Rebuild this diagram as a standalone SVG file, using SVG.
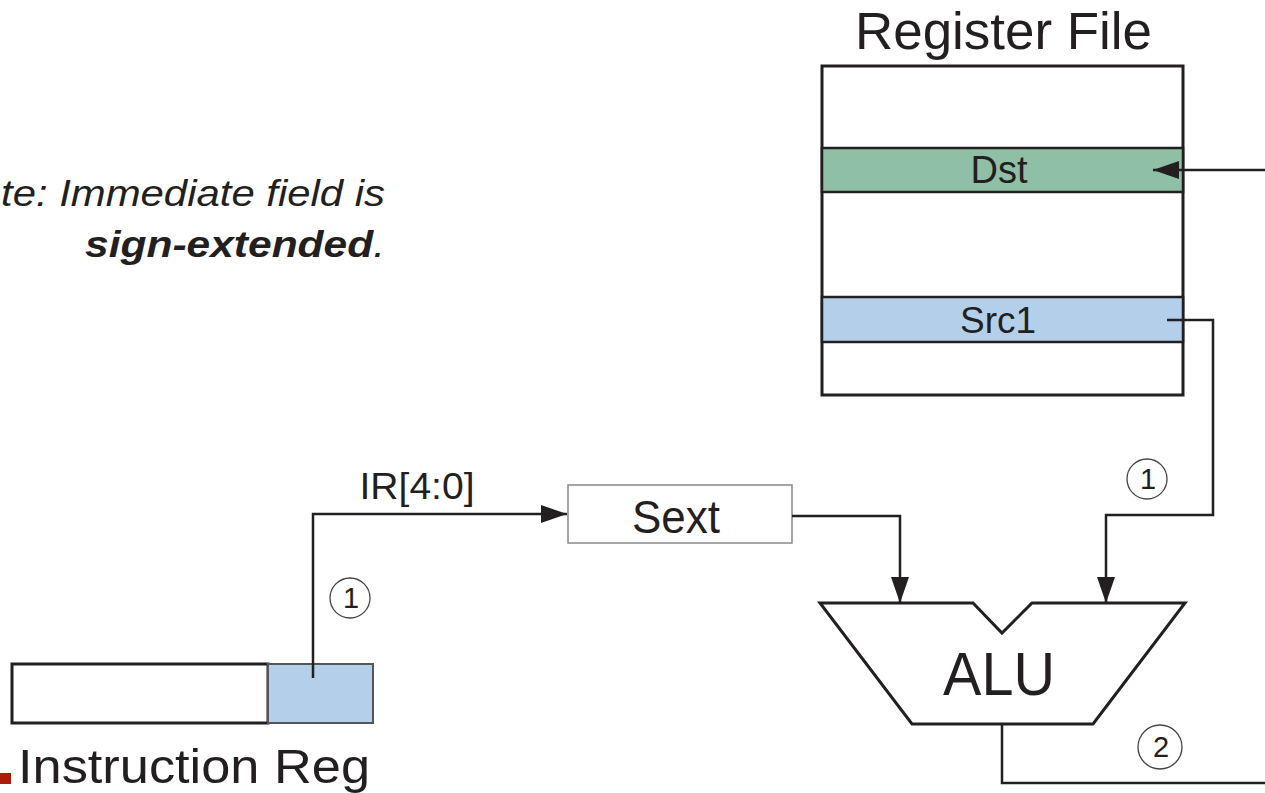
<svg xmlns="http://www.w3.org/2000/svg" width="1265" height="793" viewBox="0 0 1265 793">
<style>
text{font-family:"Liberation Sans",Arial,sans-serif;fill:#231f20}
.box{fill:#fff;stroke:#231f20;stroke-width:3}
.wire{fill:none;stroke:#231f20;stroke-width:2.5}
.step{fill:#fff;stroke:#444;stroke-width:1.3}
.stepnum{font-size:29px;text-anchor:middle}
</style>
<defs>
<marker id="ah" markerUnits="userSpaceOnUse" markerWidth="28" markerHeight="20" refX="26" refY="9" orient="auto">
<path d="M0,0 L26,9 L0,18 Z" fill="#231f20"/>
</marker>
</defs>
<rect width="1265" height="793" fill="#fff"/>

<g id="note">
<text x="1" y="206" font-size="37" font-style="italic" textLength="384" lengthAdjust="spacingAndGlyphs">te: Immediate field is</text>
<text x="85" y="257" font-size="37" font-style="italic" textLength="300" lengthAdjust="spacingAndGlyphs"><tspan font-weight="bold">sign-extended</tspan>.</text>
</g>

<g id="register-file">
<text x="855" y="49" font-size="51" textLength="297" lengthAdjust="spacingAndGlyphs">Register File</text>
<rect class="box" x="822" y="66" width="361" height="329"/>
<rect x="822" y="148" width="361" height="44" fill="#8fbfa5" stroke="#231f20" stroke-width="2.5"/>
<text x="999" y="183" font-size="38" text-anchor="middle">Dst</text>
<rect x="822" y="297" width="361" height="45" fill="#b3cfe9" stroke="#231f20" stroke-width="2.5"/>
<text x="998" y="333" font-size="37" text-anchor="middle">Src1</text>
</g>

<g id="sext">
<rect x="568" y="485" width="224" height="58" fill="#fff" stroke="#888" stroke-width="1.5"/>
<text x="676" y="533" font-size="47" text-anchor="middle" textLength="88" lengthAdjust="spacingAndGlyphs">Sext</text>
</g>

<g id="alu">
<polygon class="box" points="820,603 973,603 1002,633 1032,603 1185,603 1093,724 912,724"/>
<text x="999" y="695" font-size="61" text-anchor="middle" textLength="112" lengthAdjust="spacingAndGlyphs">ALU</text>
</g>

<g id="instruction-reg">
<rect class="box" x="12" y="664" width="256" height="59"/>
<rect x="268" y="664" width="105" height="59" fill="#b3cfe9" stroke="#555" stroke-width="2"/>
<rect x="0" y="773" width="11" height="11" fill="#b01c0c"/>
<text x="18" y="783" font-size="49" textLength="352" lengthAdjust="spacingAndGlyphs">Instruction Reg</text>
</g>

<g id="connectors">
<path class="wire" d="M1265,170 H1153" marker-end="url(#ah)"/>
<path class="wire" d="M1167,320 H1213 V515 H1106 V603" marker-end="url(#ah)"/>
<path class="wire" d="M792,516 H900 V603" marker-end="url(#ah)"/>
<path class="wire" d="M313,678 V514 H567" marker-end="url(#ah)"/>
<path class="wire" d="M1002,724 V783 H1265"/>
<text x="417" y="499" font-size="37" text-anchor="middle" textLength="115" lengthAdjust="spacingAndGlyphs">IR[4:0]</text>
</g>

<g id="step-labels">
<circle class="step" cx="1147" cy="479" r="20"/>
<text class="stepnum" x="1148" y="489">1</text>
<circle class="step" cx="350" cy="598" r="20"/>
<text class="stepnum" x="351" y="608">1</text>
<circle class="step" cx="1160" cy="747" r="22"/>
<text class="stepnum" x="1161" y="757">2</text>
</g>
</svg>
